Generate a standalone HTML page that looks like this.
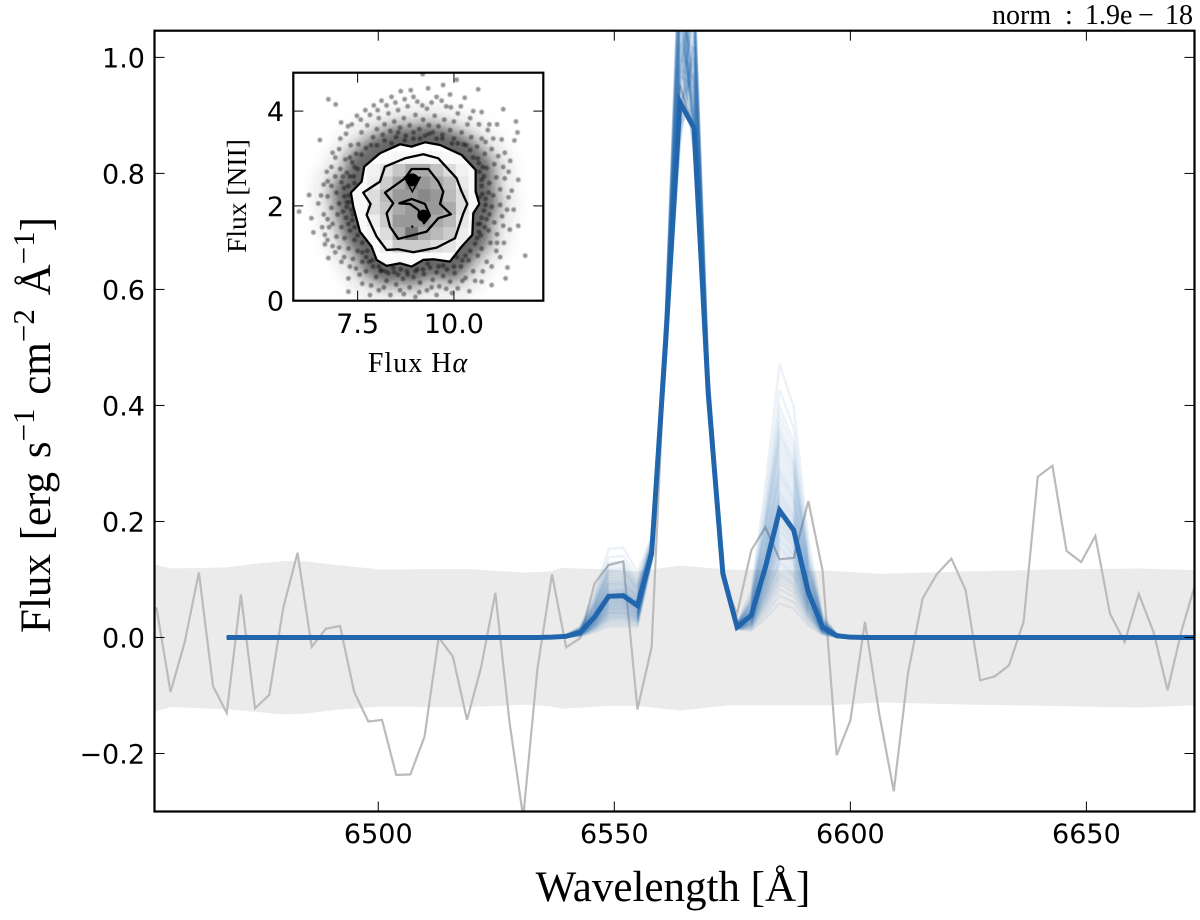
<!DOCTYPE html>
<html lang="en">
<head>
<meta charset="utf-8">
<title>Emission line spectrum fit</title>
<style>
html,body{margin:0;padding:0;background:#fff;}
svg{display:block;}
.tick{font-family:"DejaVu Sans",sans-serif;font-size:27px;fill:#000;}
.serif{font-family:"Liberation Serif",serif;fill:#000;}
</style>
</head>
<body>
<svg id="figure" xmlns="http://www.w3.org/2000/svg" width="1200" height="920" viewBox="0 0 1200 920">
  <defs>
    <clipPath id="main-clip"><rect x="154.5" y="30.7" width="1040" height="780.8"/></clipPath>
    <clipPath id="inset-clip"><rect x="293.3" y="72.7" width="250" height="228"/></clipPath>
    <filter id="soft" filterUnits="userSpaceOnUse" x="250" y="30" width="340" height="320"><feGaussianBlur stdDeviation="6"/></filter>
    <filter id="softer" filterUnits="userSpaceOnUse" x="250" y="30" width="340" height="320"><feGaussianBlur stdDeviation="11"/></filter>
    <filter id="dot-blur" filterUnits="userSpaceOnUse" x="250" y="30" width="340" height="320"><feGaussianBlur stdDeviation="0.6"/></filter>
  </defs>
  <rect width="1200" height="920" fill="#fff"/>
  <g id="main-marks" clip-path="url(#main-clip)"></g>
  <g id="main-axes"></g>
  <text class="serif" y="24" font-size="28"><tspan x="992">norm</tspan><tspan x="1065">:</tspan><tspan x="1085">1.9e</tspan><tspan x="1138">−</tspan><tspan x="1165">18</tspan></text>
  <text class="serif" x="673" y="901" text-anchor="middle" font-size="43">Wavelength [Å]</text>
  <text class="serif" transform="translate(50,425) rotate(-90)" text-anchor="middle" font-size="43" word-spacing="3">Flux [erg s<tspan dy="-16" font-size="31">−1</tspan><tspan dy="16"> cm</tspan><tspan dy="-16" font-size="31">−2</tspan><tspan dy="16"> Å</tspan><tspan dy="-16" font-size="31">−1</tspan><tspan dy="16">]</tspan></text>
  <g id="inset-marks" clip-path="url(#inset-clip)"></g>
  <g id="inset-axes"></g>
  <text class="serif" x="418" y="372" text-anchor="middle" font-size="28" letter-spacing="1">Flux H<tspan font-style="italic">α</tspan></text>
  <text class="serif" transform="translate(246,196) rotate(-90)" text-anchor="middle" font-size="27.5">Flux [NII]</text>
</svg>
<script>
// ---------- main chart data ----------
const wavelengths = [6453.0,6456.0,6459.0,6462.0,6465.0,6467.9,6470.9,6473.9,6476.9,6479.9,6482.9,6485.9,6488.9,6491.9,6494.9,6497.9,6500.8,6503.8,6506.8,6509.8,6512.8,6515.8,6518.8,6521.8,6524.8,6527.8,6530.7,6533.7,6536.8,6539.8,6542.8,6545.8,6548.8,6551.9,6554.9,6557.9,6560.9,6563.9,6566.9,6569.9,6573.0,6576.0,6579.0,6582.0,6585.0,6588.0,6591.1,6594.1,6597.1,6600.0,6603.1,6606.1,6609.2,6612.2,6615.3,6618.3,6621.4,6624.4,6627.5,6630.6,6633.6,6636.7,6639.7,6642.8,6645.8,6648.9,6651.9,6655.0,6658.1,6661.1,6664.2,6667.2,6670.2,6673.3];
const observedFlux = [0.052,-0.094,-0.008,0.112,-0.084,-0.13,0.074,-0.122,-0.099,0.052,0.146,-0.016,0.015,0.02,-0.094,-0.145,-0.142,-0.237,-0.236,-0.171,0,-0.033,-0.142,-0.051,0.077,-0.146,-0.31,-0.055,0.109,-0.017,-0.001,0.093,0.125,0.131,-0.124,-0.017,0.52,0.953,0.87,0.42,0.1,0.041,0.15,0.19,0.135,0.137,0.235,0.116,-0.203,-0.143,0.027,-0.131,-0.265,-0.062,0.067,0.109,0.136,0.082,-0.074,-0.067,-0.048,0.027,0.277,0.296,0.149,0.13,0.175,0.041,-0.008,0.075,0.01,-0.091,0.013,0.099];
// Mean model split into its H-alpha and [NII] parts, one value per wavelength
const modelHalpha = [0,0,0,0,0,0,0,0,0,0,0,0,0,0,0,0,0,0,0,0,0,0,0,0,0,0,0,0,0,0,0,0,0,0,0.005,0.124,0.509,0.923,0.878,0.42,0.108,0.012,0.002,0,0,0,0,0,0,0,0,0,0,0,0,0,0,0,0,0,0,0,0,0,0,0,0,0,0,0,0,0,0,0];
const modelNii = [0,0,0,0,0,0,0,0,0,0,0,0,0,0,0,0,0,0,0,0,0,0,0,0,0,0,0,0,0.0005,0.002,0.009,0.035,0.071,0.072,0.05,0.02,0.003,0,0,0,0.002,0.006,0.036,0.121,0.219,0.185,0.078,0.018,0.003,0.0005,0,0,0,0,0,0,0,0,0,0,0,0,0,0,0,0,0,0,0,0,0,0,0,0];
const modelFirstIndex = 5;
const noiseWave = [6451.8,6456,6462,6468,6473.6,6480,6485,6491,6501,6509.5,6519,6531,6536.4,6539,6549,6554.8,6564,6574.5,6596,6606,6625,6642,6661,6673.5];
const noiseUpper = [0.127,0.118,0.119,0.12,0.126,0.131,0.13,0.124,0.116,0.117,0.117,0.111,0.113,0.119,0.116,0.113,0.123,0.116,0.114,0.109,0.113,0.116,0.118,0.115];
const noiseLower = [-0.129,-0.119,-0.121,-0.123,-0.127,-0.132,-0.13,-0.124,-0.118,-0.119,-0.119,-0.115,-0.118,-0.122,-0.117,-0.117,-0.125,-0.116,-0.116,-0.111,-0.115,-0.117,-0.12,-0.116];
const sampleNiiScale = [1.02,0.62,1.44,0.27,0.85,1.19,0.5,1.68,0.94,0.73,1.28,0.57,1.06,2.15,0.78,0.42,1.36,0.89,0.66,1.12,0.33,1.52,0.97,0.71,1.22,0.55,1.82,0.82,1.08,0.45,1.33,0.6,0.92,1.63,0.75,1.16,0.38,1.04,0.87,1.48,0.68,1.25,0.52,1.95,0.99,0.77,1.4,0.64,1.1,0.48,1.3,0.84,1.56,0.7,1.14,0.95,1.75,0.59,0.9,1.6,1.0,0.8];
const samplePeakScale = [1.08,0.96,1.2,1.02,1.15,0.93,1.27,1.05,1.12,0.98,1.3,1.1,1.0,1.18,0.95,1.24,1.07,1.14,0.97,1.22,1.04,1.16,0.92,1.28,1.09,1.01,1.19,0.99,1.13,1.25,1.06,0.94,1.21,1.11,1.03,1.17,0.96,1.26,1.08,1.0,1.23,1.12,0.98,1.15,1.05,1.32,0.95,1.1,1.2,1.02,1.18,0.97,1.14,1.07,1.29,1.0,1.22,1.04,1.11,0.93,1.16,1.06];
const sampleShoulderScale = [1.12,1.04,0.98,1.24,1.0,1.18,1.06,1.3,0.96,1.16,1.02,1.22,1.1,0.94,1.26,1.08,1.0,1.2,1.14,0.97,1.28,1.05,1.16,1.01,0.95,1.23,1.09,1.19,1.03,0.99,1.25,1.13,1.06,0.96,1.21,1.0,1.17,1.07,1.27,1.11,0.98,1.04,1.24,1.15,1.08,0.96,1.29,1.02,1.12,1.2,1.0,1.18,1.05,1.22,0.97,1.14,1.01,1.26,1.09,1.16,1.03,1.1];
const xTickValues = [6500,6550,6600,6650];
const yTickValues = [-0.2,0,0.2,0.4,0.6,0.8,1.0];
const yTickLabels = ['−0.2','0.0','0.2','0.4','0.6','0.8','1.0'];

// ---------- inset data ----------
const contourOuter = [[7.326,2.28],[7.603,2.512],[7.672,2.828],[8.079,3.11],[8.599,3.3],[8.9,3.25],[9.248,3.342],[9.638,3.285],[10.2,3.075],[10.564,2.758],[10.564,2.301],[10.659,2.041],[10.503,1.844],[10.477,1.387],[10.2,1.141],[9.897,0.825],[9.464,0.874],[9.205,0.86],[8.9,0.72],[8.599,0.79],[8.252,0.734],[7.993,0.86],[7.863,1.141],[7.56,1.458],[7.387,1.985]];
const contourMiddle = [[7.646,2.28],[8.079,2.512],[8.209,2.828],[8.729,3.004],[9.205,3.089],[9.594,3.004],[10.07,2.582],[10.2,2.301],[10.348,2.041],[10.244,1.844],[10.027,1.317],[9.551,1.12],[8.945,1.022],[8.555,1.085],[8.252,1.071],[7.993,1.352],[7.733,1.809],[7.837,2.041]];
const contourInner = [[8.209,2.28],[8.729,2.582],[8.902,2.779],[9.335,2.779],[9.594,2.512],[9.724,2.301],[9.638,2.041],[9.923,1.823],[9.594,1.739],[9.291,1.458],[8.555,1.303],[8.339,1.563],[8.252,1.844],[8.425,2.055]];
const contourCore = [[8.581,2.055],[8.9,2.146],[9.248,2.041],[9.378,1.795],[9.222,1.633],[9.075,1.915],[8.858,2.041]];
const contourPeakTip = [[8.72,2.6],[9.12,2.6],[8.92,2.3]];
const peakFluxHa = [8.919,9.205,8.919];
const peakFluxNii = [2.55,1.795,1.563];
const peakSize = [6.5,6,1.2];
const histFluxHaEdges = [7.42,7.749,8.078,8.407,8.736,9.065,9.394,9.723,10.052,10.381,10.71];
const histFluxNiiEdges = [3.15,2.885,2.62,2.35,2.08,1.815,1.55,1.28,1.015,0.75];
const histDensity = [
 [0,1,3,5,5,5,5,4,3,1],
 [3,9,19,36,53,53,38,22,9,2],
 [4,11,32,53,74,64,53,40,14,3],
 [5,21,43,64,64,74,64,43,21,4],
 [5,21,36,53,64,64,64,53,21,4],
 [4,11,32,64,64,64,53,43,16,3],
 [2,7,21,53,85,53,43,32,11,2],
 [1,3,11,32,32,32,21,16,6,1],
 [0,1,3,4,4,3,3,2,1,0]
];
const inXTickValues = [7.5,10];
const inXTickLabels = ['7.5','10.0'];
const inYTickValues = [0,2,4];
const inYTickLabels = ['0','2','4'];
const scatterFlux = [
[5.98,1.88],[6.24,2.23],[6.3,1.74],[6.35,1.44],[6.65,1.19],[6.74,4.25],[6.93,4.14],[7.07,3.76],[9.19,4.78],[9.72,4.55],[10.07,4.66],[10.63,4.46],[11.28,4.04],[11.61,3.78],[11.65,3.55],[11.57,3.38],[11.24,3.4],[11.67,2.55],[11.67,1.58],[11.85,0.95],[11.39,0.7],[11.34,0.47],[10.98,0.33],[7.26,0.19],[7.26,0.47],[7.82,0.12],[6.74,0.9],[6.65,1.39],[6.52,3.39],
[7.6,3.55],[7.75,3.7],[7.9,3.45],[8.0,3.62],[8.05,3.85],[8.15,3.5],[8.2,3.72],[8.3,3.95],[8.35,3.58],[8.45,3.78],[8.5,3.45],[8.55,4.02],[8.6,3.65],[8.7,3.85],[8.75,3.48],[8.8,4.1],[8.85,3.7],[8.95,3.55],[9,3.92],[9.05,4.2],[9.1,3.62],[9.2,3.82],[9.25,3.48],[9.3,4.05],[9.35,3.7],[9.45,3.55],[9.5,3.9],[9.55,4.3],[9.6,3.68],[9.7,3.5],[9.75,3.82],[9.8,4.1],[9.9,3.6],[10,3.42],[10,3.78],[10.1,3.95],[10.2,3.55],[10.25,3.3],[10.35,3.72],[10.45,3.45],[10.5,4.0],[10.6,3.25],
[7.48,3.9],[7.7,4.02],[7.92,4.12],[8.12,4.22],[8.38,4.3],[8.62,4.42],[8.88,4.44],[9.33,4.48],[9.9,4.35],[10.28,4.28],[10.72,3.98],[10.88,3.6],[7.2,3.52],[7.02,3.2],[7.32,3.28],[7.46,3.1],[7.18,2.98],[7.36,2.92],[7.05,2.78],[6.92,2.62],[7.22,2.7],[7.4,2.62],[6.82,2.42],[7.08,2.5],[7.26,2.42],[6.72,2.2],[6.95,2.28],[7.16,2.2],[7.02,2.05],[6.82,1.96],[7.22,1.98],[6.62,1.82],[6.98,1.82],[7.2,1.75],[7.36,1.7],[6.85,1.62],[7.08,1.55],[7.3,1.48],[6.95,1.35],[7.16,1.32],[7.42,1.28],[7.02,1.12],[7.26,1.1],[7.5,1.05],[7.15,0.92],[7.38,0.88],[7.62,0.82],[7.46,0.68],[6.92,3.02],[6.7,2.72],[6.62,2.45],[6.48,2.05],[6.76,1.55],[6.85,1.15],
[7.72,0.62],[7.9,0.72],[7.98,0.5],[8.12,0.65],[8.25,0.42],[8.3,0.58],[8.42,0.7],[8.5,0.34],[8.55,0.55],[8.68,0.46],[8.78,0.62],[8.85,0.28],[8.95,0.5],[9.05,0.66],[9.12,0.38],[9.22,0.56],[9.3,0.22],[9.38,0.7],[9.45,0.44],[9.55,0.6],[9.62,0.3],[9.72,0.52],[9.82,0.66],[9.9,0.4],[10.02,0.58],[10.1,0.26],[10.18,0.72],[10.3,0.48],[10.38,0.85],[10.5,0.62],[10.62,0.95],[10.72,0.4],[8.05,0.22],[8.35,0.12],[8.7,0.14],[9.0,0.08],[9.55,0.12],[9.95,0.16],[10.4,0.2],[7.62,0.36],
[10.72,1.1],[10.85,0.82],[10.95,1.22],[11.1,1.05],[10.7,1.38],[10.9,1.48],[11.12,1.4],[11.3,1.22],[10.68,1.62],[10.85,1.72],[11.05,1.65],[11.25,1.78],[11.45,1.5],[10.78,1.9],[10.98,1.98],[11.2,2.02],[11.38,1.92],[10.82,2.15],[11.02,2.22],[11.2,2.35],[11.42,2.18],[10.72,2.42],[10.92,2.48],[11.1,2.6],[11.32,2.58],[10.66,2.72],[10.85,2.8],[11.05,2.88],[11.28,2.82],[10.62,3.0],[10.8,3.1],[10.98,3.2],[11.15,3.05],[10.72,3.42],[10.92,3.72],[11.46,2.95],
[7.28,2.22],[7.15,2.38],[7.3,2.08],[7.12,1.88],[7.38,1.82],[7.5,1.38],[7.62,1.22],[7.75,1.05],[7.8,0.82],[8.1,0.62],[8.45,0.6],[8.8,0.55],[9.2,0.66],[9.6,0.72],[10,0.72],[10.3,0.95],[10.55,1.2],[10.65,1.45],[10.72,1.75],[10.82,2.02],[10.74,2.25],[10.72,2.55],[10.65,2.9],[10.42,3.18],[10.1,3.32],[9.7,3.42],[9.35,3.52],[8.95,3.42],[8.55,3.55],[8.2,3.38],[7.85,3.28],[7.6,3.08],[7.5,2.78],[7.42,2.48],
[7.35,3.72],[7.58,3.82],[7.82,3.92],[8.02,4.02],[8.25,4.12],[8.48,4.18],[8.72,4.25],[8.95,4.3],[9.18,4.12],[9.42,4.18],[9.68,4.22],[9.92,4.08],[10.18,4.1],[10.42,3.85],[10.65,3.72],[10.82,3.35],[11.02,3.42],[11.12,3.72],[11.32,3.12],[11.42,2.72],[11.5,2.32],[11.55,1.92],[11.28,1.58],[11.12,1.22],[11.2,0.92],[10.98,0.72],[10.75,0.62],[10.55,0.42],[10.22,0.42],[9.8,0.25],[9.42,0.28],[9.1,0.18],[8.6,0.22],[8.18,0.28],[7.85,0.32],[7.55,0.55],[7.3,0.72],[7.08,0.82],[6.92,1.02],[6.72,1.28],[6.58,1.55],[6.72,1.72],[6.55,2.22],[6.72,2.52],[6.82,2.82],[6.85,3.12],[7.05,3.42],[7.25,3.68],
[7.22,2.08],[7.26,1.62],[7.34,1.92],[7.42,1.55],[7.55,1.62],[7.62,1.02],[7.72,0.92],[7.88,0.85],[8.05,0.72],[8.22,0.62],[8.62,0.66],[9.0,0.62],[9.32,0.78],[9.72,0.74],[10.08,0.92],[10.22,0.85],[10.42,1.05],[10.6,1.32],[10.62,1.62],[10.8,1.55],[10.92,1.82],[10.66,2.18],[10.9,2.28],[10.78,2.62],[10.75,2.82],[10.5,3.02],[10.32,3.28],[9.95,3.32],[9.55,3.42],[9.12,3.42],[8.72,3.38],[8.38,3.32],[8.0,3.28],[7.72,3.22],[7.52,3.3],[7.3,3.02],[7.42,2.82],[7.3,2.62],[7.12,2.62]
];

// ---------- axis functions ----------
const xMin = 6452.6, xMax = 6672.9, yMin = -0.3, yMax = 1.046;
const plotL = 154.5, plotR = 1194.5, plotT = 30.7, plotB = 811.5;
function xAxis(v) { return plotL + (v - xMin) / (xMax - xMin) * (plotR - plotL); }
function yAxis(v) { return plotB - (v - yMin) / (yMax - yMin) * (plotB - plotT); }
const inL = 293.3, inR = 543.3, inT = 72.7, inB = 300.7;
const inXMin = 5.83, inXMax = 12.32, inYMin = 0, inYMax = 4.81;
function inX(v) { return inL + (v - inXMin) / (inXMax - inXMin) * (inR - inL); }
function inY(v) { return inB - (v - inYMin) / (inYMax - inYMin) * (inB - inT); }

const NS = 'http://www.w3.org/2000/svg';
function make(parent, tag, attrs) {
  const el = document.createElementNS(NS, tag);
  for (const k in attrs) el.setAttribute(k, attrs[k]);
  parent.appendChild(el);
  return el;
}
function pathFrom(points, close) {
  return 'M' + points.map(p => p[0].toFixed(2) + ' ' + p[1].toFixed(2)).join('L') + (close ? 'Z' : '');
}
const mainMarks = document.getElementById('main-marks');
const mainAxes = document.getElementById('main-axes');
const insetMarks = document.getElementById('inset-marks');
const insetAxes = document.getElementById('inset-axes');

// noise band
const bandPts = noiseWave.map((w, i) => [xAxis(w), yAxis(noiseUpper[i])])
  .concat(noiseWave.map((w, i) => [xAxis(w), yAxis(noiseLower[i])]).reverse());
const band = make(mainMarks, 'path', { d: pathFrom(bandPts, true), fill: '#ebebeb', stroke: '#ebebeb', 'stroke-width': 1, 'stroke-linejoin': 'round' });



// observed spectrum
const obsLine = make(mainMarks, 'path', { d: pathFrom(wavelengths.map((w, i) => [xAxis(w), yAxis(observedFlux[i])])), fill: 'none', stroke: '#bbbbbb', 'stroke-width': 2.2, 'stroke-linejoin': 'miter' });



// model values
const peakIndex = modelHalpha.indexOf(Math.max.apply(null, modelHalpha));
function modelValue(i, nii, peak, shoulder) {
  let haScale;
  if (i === peakIndex) haScale = peak;
  else if (i === peakIndex + 1) haScale = shoulder;
  else if (i < peakIndex) haScale = 1 + (peak - 1) * 0.3;
  else haScale = 1 + (shoulder - 1) * 0.3;
  return modelHalpha[i] * haScale + modelNii[i] * nii;
}
function modelPath(nii, peak, shoulder) {
  const pts = [];
  for (let i = modelFirstIndex; i < wavelengths.length; i++) {
    pts.push([xAxis(wavelengths[i]), yAxis(modelValue(i, nii, peak, shoulder))]);
  }
  return pathFrom(pts);
}
// posterior sample lines
sampleNiiScale.forEach((nii, s) => {
  const line = make(mainMarks, 'path', { d: modelPath(nii, samplePeakScale[s], sampleShoulderScale[s]), fill: 'none', stroke: '#2166ac', 'stroke-width': 2.5, 'stroke-opacity': 0.085 });
  
  
});
// best model
const modelLine = make(mainMarks, 'path', { d: modelPath(1, 1, 1), fill: 'none', stroke: '#2166ac', 'stroke-width': 5, 'stroke-linejoin': 'miter' });



// main ticks
xTickValues.forEach(v => {
  const x = xAxis(v);
  const b = make(mainAxes, 'line', { x1: x, x2: x, y1: plotB, y2: plotB - 10, stroke: '#000', 'stroke-width': 1 });
  
  
  const t = make(mainAxes, 'line', { x1: x, x2: x, y1: plotT, y2: plotT + 10, stroke: '#000', 'stroke-width': 1 });
  
  
  const lab = make(mainAxes, 'text', { x: x, y: 843, 'text-anchor': 'middle', class: 'tick' });
  
  
  lab.textContent = String(v);
});
yTickValues.forEach((v, i) => {
  const y = yAxis(v);
  const l = make(mainAxes, 'line', { x1: plotL, x2: plotL + 10, y1: y, y2: y, stroke: '#000', 'stroke-width': 1 });
  
  
  const r = make(mainAxes, 'line', { x1: plotR, x2: plotR - 10, y1: y, y2: y, stroke: '#000', 'stroke-width': 1 });
  
  
  const lab = make(mainAxes, 'text', { x: 145, y: y + 10, 'text-anchor': 'end', class: 'tick' });
  
  
  lab.textContent = yTickLabels[i];
});
const frame = make(mainAxes, 'rect', { x: plotL, y: plotT, width: plotR - plotL, height: plotB - plotT, fill: 'none', stroke: '#000', 'stroke-width': 2.2 });



// ---------- inset ----------
function inPts(list) { return list.map(p => [inX(p[0]), inY(p[1])]); }
const insetBg = make(insetMarks, 'rect', { x: inL, y: inT, width: inR - inL, height: inB - inT, fill: '#fff' });


const wideShade = make(insetMarks, 'path', { d: pathFrom(inPts(contourOuter), true), fill: 'none', stroke: '#333', 'stroke-width': 56, 'stroke-opacity': 0.26, filter: 'url(#softer)' });


const ringShade = make(insetMarks, 'path', { d: pathFrom(inPts(contourOuter), true), fill: 'none', stroke: '#2a2a2a', 'stroke-width': 34, 'stroke-opacity': 0.6, filter: 'url(#soft)' });


const scatterGroup = make(insetMarks, 'g', { filter: 'url(#dot-blur)' });


scatterFlux.forEach(p => {
  const dot = make(scatterGroup, 'circle', { cx: inX(p[0]), cy: inY(p[1]), r: 2.4, fill: '#000', 'fill-opacity': 0.42 });
  
  
});
const whiteFill = make(insetMarks, 'path', { d: pathFrom(inPts(contourOuter), true), fill: '#fff' });


const histMask = make(insetMarks, 'clipPath', { id: 'outer-contour-clip' });
const histMaskPath = make(histMask, 'path', { d: pathFrom(inPts(contourOuter), true) });
const histGroup = make(insetMarks, 'g', { 'clip-path': 'url(#outer-contour-clip)' });


histDensity.forEach((row, r) => {
  row.forEach((d, c) => {
    const g = Math.round(255 - d * 1.6);
    const x0 = inX(histFluxHaEdges[c]), x1 = inX(histFluxHaEdges[c + 1]);
    const y0 = inY(histFluxNiiEdges[r]), y1 = inY(histFluxNiiEdges[r + 1]);
    const cell = make(histGroup, 'rect', { x: x0, y: y0, width: x1 - x0 + 0.3, height: y1 - y0 + 0.3, fill: 'rgb(' + g + ',' + g + ',' + g + ')' });
    
    
  });
});
[['contour-outer', contourOuter], ['contour-middle', contourMiddle], ['contour-inner', contourInner], ['contour-core', contourCore]].forEach(entry => {
  const c = make(insetMarks, 'path', { d: pathFrom(inPts(entry[1]), true), fill: 'none', stroke: '#000', 'stroke-width': 2.3, 'stroke-linejoin': 'round' });
  
  
});
const tip = make(insetMarks, 'path', { d: pathFrom(inPts(contourPeakTip), true), fill: 'none', stroke: '#000', 'stroke-width': 1.6 });


peakFluxHa.forEach((v, i) => {
  const blob = make(insetMarks, 'circle', { cx: inX(v), cy: inY(peakFluxNii[i]), r: peakSize[i], fill: '#000' });
  
  
});
inXTickValues.forEach((v, i) => {
  const x = inX(v);
  const b = make(insetAxes, 'line', { x1: x, x2: x, y1: inB, y2: inB - 10, stroke: '#000', 'stroke-width': 1 });
  
  
  const t = make(insetAxes, 'line', { x1: x, x2: x, y1: inT, y2: inT + 10, stroke: '#000', 'stroke-width': 1 });
  
  
  const lab = make(insetAxes, 'text', { x: x, y: 333, 'text-anchor': 'middle', class: 'tick' });
  
  
  lab.textContent = inXTickLabels[i];
});
inYTickValues.forEach((v, i) => {
  const y = inY(v);
  const l = make(insetAxes, 'line', { x1: inL, x2: inL + 10, y1: y, y2: y, stroke: '#000', 'stroke-width': 1 });
  
  
  const r = make(insetAxes, 'line', { x1: inR, x2: inR - 10, y1: y, y2: y, stroke: '#000', 'stroke-width': 1 });
  
  
  const lab = make(insetAxes, 'text', { x: 284, y: y + 10, 'text-anchor': 'end', class: 'tick' });
  
  
  lab.textContent = inYTickLabels[i];
});
const inFrame = make(insetAxes, 'rect', { x: inL, y: inT, width: inR - inL, height: inB - inT, fill: 'none', stroke: '#000', 'stroke-width': 2.2 });


</script>
</body>
</html>
